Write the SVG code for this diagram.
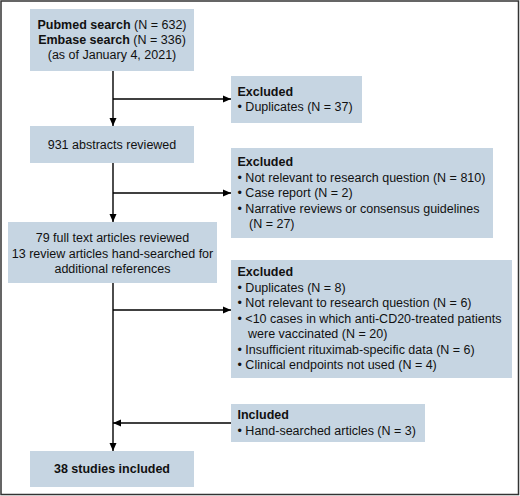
<svg xmlns="http://www.w3.org/2000/svg" width="520" height="496" viewBox="0 0 520 496">
<style>
.box{fill:#c6d5e2}
text{font-family:"Liberation Sans",Arial,sans-serif;font-size:12.5px;fill:#111}
.b{font-weight:bold}
.c{text-anchor:middle}
.ln{stroke:#000;stroke-width:1.4;fill:none}
</style>
<defs>
<marker id="ah" markerWidth="8" markerHeight="8" viewBox="0 0 8 8" refX="8" refY="4" orient="auto" markerUnits="userSpaceOnUse">
<path d="M0,0.5 L8,4 L0,7.5 Z" fill="#000"/>
</marker>
</defs>
<rect x="1" y="1" width="517.5" height="493.5" fill="#fff" stroke="#333" stroke-width="1.5"/>
<g id="connectors">
<line class="ln" x1="113" y1="71" x2="113" y2="126" marker-end="url(#ah)"/>
<line class="ln" x1="113" y1="99" x2="231" y2="99" marker-end="url(#ah)"/>
<line class="ln" x1="113" y1="163" x2="113" y2="222" marker-end="url(#ah)"/>
<line class="ln" x1="113" y1="193" x2="231" y2="193" marker-end="url(#ah)"/>
<line class="ln" x1="113" y1="283" x2="113" y2="451" marker-end="url(#ah)"/>
<line class="ln" x1="113" y1="310" x2="231" y2="310" marker-end="url(#ah)"/>
<line class="ln" x1="231" y1="423" x2="113" y2="423" marker-end="url(#ah)"/>
</g>
<g id="search">
<rect class="box" x="30" y="9" width="164" height="62"/>
<text class="c" x="112" y="29"><tspan class="b">Pubmed search</tspan> (N = 632)</text>
<text class="c" x="112" y="44"><tspan class="b">Embase search</tspan> (N = 336)</text>
<text class="c" x="112" y="59">(as of January 4, 2021)</text>
</g>
<g id="excluded1">
<rect class="box" x="231" y="76" width="131" height="47"/>
<text class="b" x="237.5" y="95.5">Excluded</text>
<text x="237.5" y="111">• Duplicates (N = 37)</text>
</g>
<g id="abstracts">
<rect class="box" x="30" y="126" width="164" height="37"/>
<text class="c" x="112" y="149">931 abstracts reviewed</text>
</g>
<g id="excluded2">
<rect class="box" x="231" y="148" width="262" height="90"/>
<text class="b" x="237.5" y="166">Excluded</text>
<text x="237.5" y="181.5">• Not relevant to research question (N = 810)</text>
<text x="237.5" y="197">• Case report (N = 2)</text>
<text x="237.5" y="212.5">• Narrative reviews or consensus guidelines</text>
<text x="249" y="228">(N = 27)</text>
</g>
<g id="fulltext">
<rect class="box" x="8" y="222" width="209" height="61"/>
<text class="c" x="112.5" y="242">79 full text articles reviewed</text>
<text class="c" x="112.5" y="257.5">13 review articles hand-searched for</text>
<text class="c" x="112.5" y="272.5">additional references</text>
</g>
<g id="excluded3">
<rect class="box" x="231" y="260" width="281" height="118"/>
<text class="b" x="237.5" y="276">Excluded</text>
<text x="237.5" y="292">• Duplicates (N = 8)</text>
<text x="237.5" y="307">• Not relevant to research question (N = 6)</text>
<text x="237.5" y="322.5">• &lt;10 cases in which anti-CD20-treated patients</text>
<text x="248" y="338">were vaccinated (N = 20)</text>
<text x="237.5" y="353.5">• Insufficient rituximab-specific data (N = 6)</text>
<text x="237.5" y="369">• Clinical endpoints not used (N = 4)</text>
</g>
<g id="included">
<rect class="box" x="231" y="404" width="194" height="38"/>
<text class="b" x="237.5" y="418.5">Included</text>
<text x="237.5" y="435">• Hand-searched articles (N = 3)</text>
</g>
<g id="final">
<rect class="box" x="30" y="451" width="164" height="36"/>
<text class="c b" x="112" y="472.5">38 studies included</text>
</g>
</svg>
